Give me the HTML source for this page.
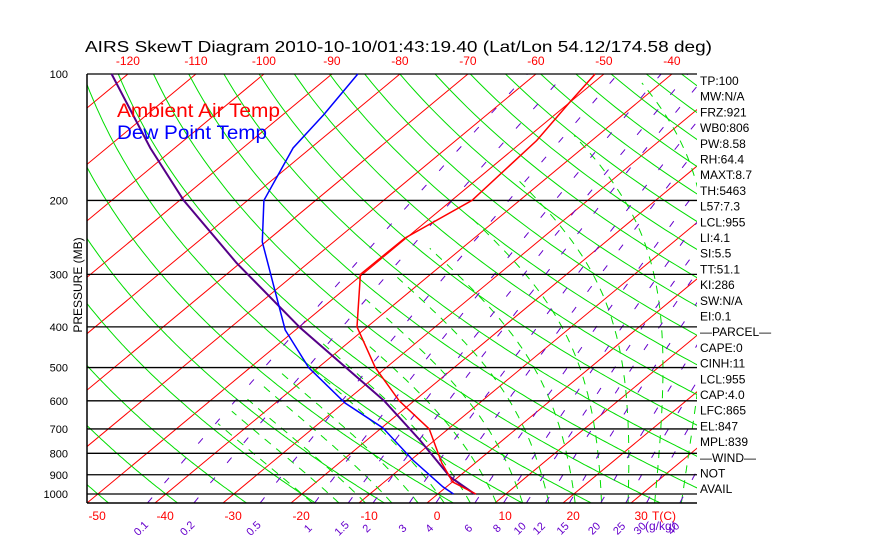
<!DOCTYPE html>
<html><head><meta charset="utf-8"><style>
html,body{margin:0;padding:0;background:#fff;}
svg{display:block;font-family:"Liberation Sans",sans-serif;}
</style></head><body>
<svg id="c" width="870" height="560" xmlns="http://www.w3.org/2000/svg">
<defs><clipPath id="plot"><rect x="87" y="74" width="610" height="429"/></clipPath></defs>
<text x="85" y="52" font-size="16" fill="#000" textLength="627" lengthAdjust="spacingAndGlyphs">AIRS SkewT Diagram 2010-10-10/01:43:19.40 (Lat/Lon 54.12/174.58 deg)</text>
<g id="bg" clip-path="url(#plot)"></g>
<g id="fg"></g>
<text x="117" y="117" font-size="19" fill="#f00" textLength="163" lengthAdjust="spacingAndGlyphs">Ambient Air Temp</text>
<text x="117" y="139" font-size="19" fill="#00f" textLength="150" lengthAdjust="spacingAndGlyphs">Dew Point Temp</text>
<text transform="translate(82,285) rotate(-90)" text-anchor="middle" font-size="12">PRESSURE (MB)</text>
</svg>
<script>
const pressureTicks=[100,200,300,400,500,600,700,800,900,1000];
const bottomTempTicks=[-50,-40,-30,-20,-10,0,10,20,30];
const topTempTicks=[-120,-110,-100,-90,-80,-70,-60,-50,-40];
const mixRatios=[0.1,0.2,0.5,1,1.5,2,3,4,6,8,10,12,15,20,25,30,40];
const infoLabels=["TP:100","MW:N/A","FRZ:921","WB0:806","PW:8.58","RH:64.4","MAXT:8.7","TH:5463","L57:7.3","LCL:955","LI:4.1","SI:5.5","TT:51.1","KI:286","SW:N/A","EI:0.1","\u2014PARCEL\u2014","CAPE:0","CINH:11","LCL:955","CAP:4.0","LFC:865","EL:847","MPL:839","\u2014WIND\u2014","NOT","AVAIL"];
const tempP=[1000,937,844,700,600,500,400,300,246,200,144,117,100];
const tempT=[5.6,0.1,-4.9,-12.8,-22.2,-31.6,-41.5,-50.3,-50.2,-47.0,-48.1,-50.0,-51.3];
const dewP=[1000,962,830,696,607,500,407,327,251,200,150,125,100];
const dewT=[2.3,-0.5,-9.7,-19.8,-29.8,-41.4,-51.5,-60.1,-70.5,-77.6,-82.6,-84.0,-86.2];
const wbP=[1000,911,744,600,402,282,200,150,100];
const wbT=[5.4,-1.2,-12.2,-24.4,-49.7,-70.5,-89.4,-103.6,-122.4];

const NS="http://www.w3.org/2000/svg";
const bg=document.getElementById('bg'),fg=document.getElementById('fg');
function yP(p){return 494+182.4*Math.log(p/1000);}
function xT(T,p){return 427+6.8*T+1.205*(503-yP(p));}
function mk(tag,at,par){const e=document.createElementNS(NS,tag);for(const k in at)e.setAttribute(k,at[k]);par.appendChild(e);return e;}
function pathFrom(ps,ts){return ps.map((p,i)=>(i?'L':'M')+xT(ts[i],p).toFixed(1)+','+yP(p).toFixed(1)).join('');}
function curve(fn){let d='';for(let p=1050;p>=95;p-=5){const T=fn(p);d+=(d?'L':'M')+xT(T,p).toFixed(1)+','+yP(p).toFixed(1);}return d;}
for(let T=-200;T<=60;T+=10){const e=mk('line',{x1:xT(T,1050),y1:yP(1050),x2:xT(T,100),y2:yP(100),stroke:'#f00','stroke-width':1},bg);

}
for(let th=-80;th<=250;th+=10){const e=mk('path',{d:curve(p=>(th+273.15)*Math.pow(p/1000,0.286)-273.15),fill:'none',stroke:'#0d0','stroke-width':1},bg);

}
function es(T){return 6.112*Math.exp(17.67*T/(T+243.5));}
function dTdp(T,p){const Tk=T+273.15,e=es(T),r=0.622*e/(p-e),L=2.5e6;
return (0.2857*Tk+L*r/1004)/(p*(1+L*L*r*0.622/(1004*287*Tk*Tk)));}
for(let tw=-20;tw<=40;tw+=4){const pts=[];
let Tb=tw;for(let q=1000;q<1050;q+=5){Tb+=dTdp(Tb,q)*5;}
let T=Tb;for(let p=1050;p>=100;p-=5){if(T<-45)break;pts.push([p,T]);T-=dTdp(T,p)*5;}
if(pts.length<2)continue;
const d=pts.map((a,i)=>(i?'L':'M')+xT(a[1],a[0]).toFixed(1)+','+yP(a[0]).toFixed(1)).join('');
const e=mk('path',{d:d,fill:'none',stroke:'#0d0','stroke-width':1,'stroke-dasharray':'8 7'},bg);

}
function tdW(w,p){const e=w*p/(622+w),l=Math.log(e/6.112);return 243.5*l/(17.67-l);}
mixRatios.forEach(w=>{const e=mk('path',{d:curve(p=>tdW(w,p)),fill:'none',stroke:'#60c','stroke-width':1,'stroke-dasharray':'7 19'},bg);


const x=xT(tdW(w,1050),1050);
const t=mk('text',{transform:`translate(${(x-4).toFixed(1)},531) rotate(-45)`,'font-size':11,fill:'#60c','text-anchor':'middle'},fg);t.textContent=w;

});
pressureTicks.forEach(p=>{const e=mk('line',{x1:87,x2:697,y1:yP(p),y2:yP(p),stroke:'#000','stroke-width':1.3},fg);


const t=mk('text',{x:68,y:yP(p)+4,'font-size':11,'text-anchor':'end'},fg);t.textContent=p;

});
let e0=mk('line',{x1:87,x2:87,y1:74,y2:503,stroke:'#000','stroke-width':1.5},fg);


e0=mk('line',{x1:87,x2:697,y1:503,y2:503,stroke:'#000','stroke-width':1.5},fg);


bottomTempTicks.forEach(T=>{const t=mk('text',{x:xT(T,1050)+10,y:520,'font-size':12,fill:'#f00','text-anchor':'middle'},fg);t.textContent=T;

});
topTempTicks.forEach(T=>{const t=mk('text',{x:xT(T,100),y:65,'font-size':12,fill:'#f00','text-anchor':'middle'},fg);t.textContent=T;

});
let t0=mk('text',{x:664,y:520,'font-size':12,fill:'#f00','text-anchor':'middle'},fg);t0.textContent='T(C)';


t0=mk('text',{x:645,y:530,'font-size':12,fill:'#60c'},fg);t0.textContent='(g/kg)';


let pr=mk('path',{d:pathFrom(wbP,wbT),fill:'none',stroke:'#508','stroke-width':2},fg);


pr=mk('path',{d:pathFrom(tempP,tempT),fill:'none',stroke:'#f00','stroke-width':1.5},fg);


pr=mk('path',{d:pathFrom(dewP,dewT),fill:'none',stroke:'#00f','stroke-width':1.5},fg);


infoLabels.forEach((s,i)=>{const t=mk('text',{x:700,y:85+i*15.7,'font-size':12},fg);t.textContent=s;

});
</script>
</body></html>
